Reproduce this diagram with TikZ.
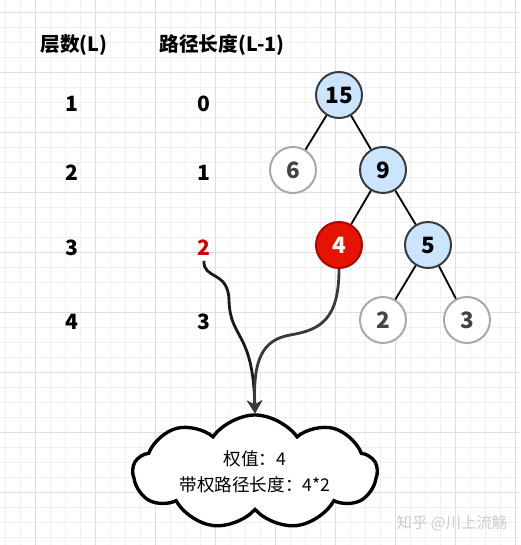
\documentclass[tikz,border=0pt]{standalone}
\usepackage{fontspec}
\setmainfont{Noto Sans CJK SC}
\usetikzlibrary{shapes.symbols,arrows.meta}
\definecolor{nodeblue}{HTML}{CCE5FF}
\definecolor{nodeline}{HTML}{36393D}
\definecolor{leafline}{HTML}{A8A8A8}
\definecolor{leaftext}{HTML}{444444}
\definecolor{hotfill}{HTML}{E51400}
\definecolor{hotline}{HTML}{B20000}
\definecolor{hotnum}{HTML}{CC0000}
\begin{document}
\begin{tikzpicture}[x=0.025cm, y=-0.025cm]
            \tikzstyle{minor} = [draw=black!6, line width=0.4pt]
            \tikzstyle{major} = [draw=black!13, line width=0.5pt]
            \tikzstyle{vertex} = [circle, draw=nodeline, fill=nodeblue, line width=1.4pt, minimum size=1.15cm, inner sep=0pt, font=\bfseries\fontsize{16}{16}\selectfont]
            \tikzstyle{leaf} = [vertex, draw=leafline, fill=white, text=leaftext]
            \tikzstyle{hot} = [vertex, draw=hotline, fill=hotfill, text=white]
            \tikzstyle{head} = [font=\bfseries\fontsize{14}{14}\selectfont]
            \tikzstyle{level} = [font=\bfseries\fontsize{15}{15}\selectfont]
            \tikzstyle{edge} = [line width=1.3pt]
            \tikzstyle{link} = [line width=2pt, -{Stealth[length=3.2mm,width=3.8mm]}]

            \fill[white] (0,0) rectangle (520,545);
            \useasboundingbox (0,0) rectangle (520,545);

            % grid
            \foreach \gx in {5,20,...,515} \draw[minor] (\gx,0) -- (\gx,545);
            \foreach \gy in {12,27,...,545} \draw[minor] (0,\gy) -- (520,\gy);
            \foreach \gx in {35,95,...,515} \draw[major] (\gx,0) -- (\gx,545);
            \foreach \gy in {12,72,...,545} \draw[major] (0,\gy) -- (520,\gy);

            % table
            \node[head] (headL) at (74, 45) {层数(L)};
            \node[head] (headP) at (222, 45) {路径长度(L-1)};

            \node[level] (L1) at (72, 104) {1};
            \node[level] (L2) at (72, 173) {2};
            \node[level] (L3) at (72, 248) {3};
            \node[level] (L4) at (72, 322) {4};
            \node[level] (P1) at (204, 104) {0};
            \node[level] (P2) at (204, 173) {1};
            \node[level, text=hotnum] (P3) at (204, 248) {2};
            \node[level] (P4) at (204, 322) {3};

            % tree
            \node[vertex] (15) at (339, 95) {15};
            \node[leaf] (6) at (293, 170) {6};
            \node[vertex] (9) at (383, 170) {9};
            \node[hot] (4) at (339, 245) {4};
            \node[vertex] (5) at (428, 245) {5};
            \node[leaf] (2) at (383, 320) {2};
            \node[leaf] (3) at (467, 320) {3};

            \draw [edge] (15) -- (6);
            \draw [edge] (15) -- (9);
            \draw [edge] (9) -- (4);
            \draw [edge] (9) -- (5);
            \draw [edge] (5) -- (2);
            \draw [edge] (5) -- (3);

            % note
            \node[cloud, draw, line width=2.4pt, fill=white, cloud puffs=9, cloud puff arc=110, minimum width=6.1cm, minimum height=2.85cm] (note) at (255, 472) {};
            \node[align=center, font=\fontsize{12.5}{18}\selectfont] (weight) at (note.center) {权值：4\\带权路径长度：4*2};

            \draw [link, draw=black!90] (P3.south) .. controls (203,280) and (228,270) .. (229,300) .. controls (230,340) and (253,330) .. (note.north);
            \draw [link, draw=nodeline] (4.south) .. controls (339,320) and (320,330) .. (290,335) .. controls (262,340) and (253,360) .. (note.north);

            \node[text=black!20, font=\fontsize{11}{11}\selectfont] (mark) at (452, 523) {知乎 @川上流觞};
          \end{tikzpicture}
\end{document}
